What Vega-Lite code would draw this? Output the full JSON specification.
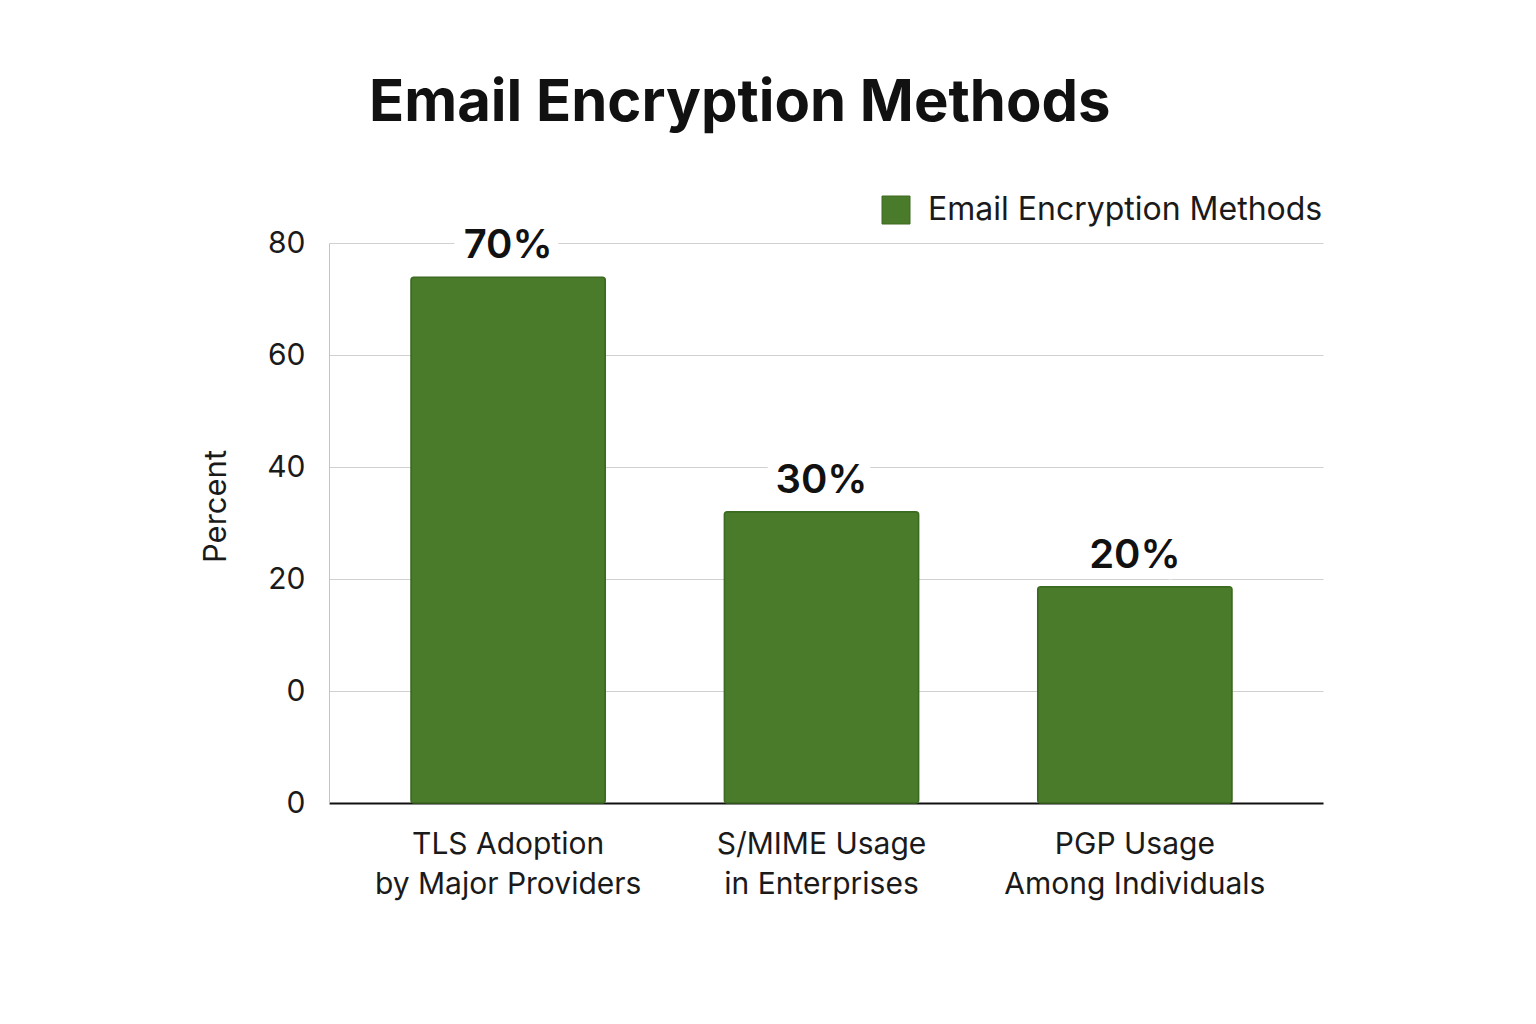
{
  "$schema": "https://vega.github.io/schema/vega-lite/v6.json",
  "width": 994,
  "height": 560,
  "autosize": {"type": "none"},
  "padding": {"left": 329, "top": 243, "right": 213, "bottom": 221},
  "background": "white",
  "title": {
    "text": "Email Encryption Methods",
    "anchor": "start",
    "dx": 169,
    "dy": 103,
    "offset": 118,
    "baseline": "alphabetic",
    "fontSize": 58,
    "fontWeight": "bold",
    "font": "Inter",
    "color": "#111111"
  },
  "data": {
    "values": [
      {"method": "TLS Adoption|by Major Providers", "value": 93.9, "label": "70%"},
      {"method": "S/MIME Usage|in Enterprises", "value": 52, "label": "30%"},
      {"method": "PGP Usage|Among Individuals", "value": 38.6, "label": "20%"}
    ]
  },
  "encoding": {
    "x": {
      "field": "method",
      "type": "nominal",
      "sort": null,
      "scale": {"paddingInner": 0.38, "paddingOuter": 0.276, "align": 0.474},
      "axis": {
        "title": null,
        "labelAngle": 0,
        "labelExpr": "split(datum.label, '|')",
        "labelFontSize": 30,
        "labelLineHeight": 40,
        "labelPadding": 26,
        "labelLimit": 0,
        "labelColor": "#1a1a1a",
        "labelFont": "Inter",
        "ticks": false,
        "domainColor": "#111111",
        "domainWidth": 2,
        "grid": false
      }
    },
    "y": {
      "field": "value",
      "type": "quantitative",
      "scale": {"domain": [0, 100], "nice": false},
      "axis": {
        "title": "Percent",
        "titleFontSize": 31,
        "titleFontWeight": "normal",
        "titleFont": "Inter",
        "titleColor": "#1a1a1a",
        "titleX": -97,
        "titleY": 263,
        "values": [0, 20, 40, 60, 80, 100],
        "labelExpr": "datum.value == 0 ? '0' : format(datum.value - 20, 'd')",
        "labelFontSize": 30,
        "labelFont": "Inter",
        "labelColor": "#1a1a1a",
        "labelPadding": 24,
        "ticks": false,
        "domainColor": "#c4c4c4",
        "grid": true,
        "gridColor": "#d0d0d0",
        "gridWidth": 1
      }
    }
  },
  "layer": [
    {
      "mark": {"type": "bar", "cornerRadius": 3, "stroke": "#3c6a20", "strokeWidth": 1.5},
      "encoding": {
        "color": {
          "datum": "Email Encryption Methods",
          "scale": {"range": ["#4a7b2b"]},
          "legend": {
            "title": null,
            "orient": "none",
            "legendX": 551,
            "legendY": -49,
            "symbolType": "square",
            "symbolSize": 784,
            "symbolStrokeColor": "#3c6a20",
            "symbolStrokeWidth": 1,
            "labelFontSize": 32,
            "labelFont": "Inter",
            "labelColor": "#1a1a1a",
            "labelOffset": 16,
            "labelLimit": 0
          }
        }
      }
    },
    {
      "mark": {
        "type": "text",
        "baseline": "alphabetic",
        "dy": -19,
        "fontSize": 40,
        "fontWeight": 600,
        "font": "Inter",
        "color": "white",
        "stroke": "white",
        "strokeWidth": 22
      },
      "encoding": {"text": {"field": "label"}}
    },
    {
      "mark": {
        "type": "text",
        "baseline": "alphabetic",
        "dy": -19,
        "fontSize": 40,
        "fontWeight": 600,
        "font": "Inter",
        "color": "#111111"
      },
      "encoding": {"text": {"field": "label"}}
    }
  ],
  "config": {"view": {"stroke": null}}
}
